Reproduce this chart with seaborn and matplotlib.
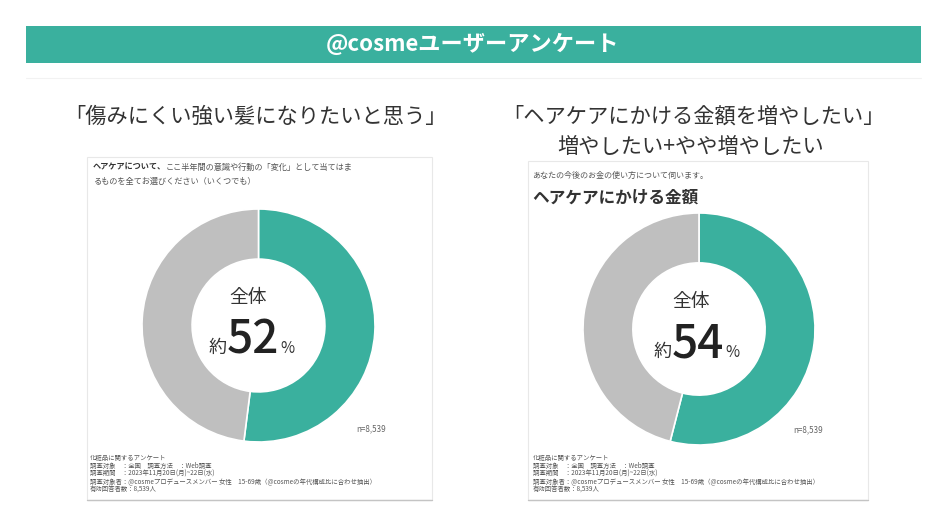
import numpy as np
import seaborn as sns
import matplotlib.pyplot as plt
from matplotlib.patches import Rectangle
from matplotlib.lines import Line2D

# データ
labels = ["該当", "その他"]
values_left = [52, 48]
values_right = [54, 46]
pct_left = "52"
pct_right = "54"
n_label = "n=8,539"

header = "@cosmeユーザーアンケート"
title_left = "「傷みにくい強い髪になりたいと思う」"
title_right = "「ヘアケアにかける金額を増やしたい」"
subtitle_right = "増やしたい+やや増やしたい"

q_left_bold = "ヘアケアについて、"
q_left_1 = "ここ半年間の意識や行動の「変化」として当てはま"
q_left_2 = "るものを全てお選びください（いくつでも）"
q_right_1 = "あなたの今後のお金の使い方について伺います。"
q_right_2 = "ヘアケアにかける金額"

footnote = [
    "化粧品に関するアンケート",
    "調査対象　：全国　調査方法　：Web調査",
    "調査期間　：2023年11月20日(月)~22日(水)",
    "調査対象者：@cosmeプロデュースメンバー 女性　15-69歳（@cosmeの年代構成比に合わせ抽出）",
    "有効回答者数：8,539人",
]

TEAL = "#3AB09E"
GRAY = "#BFBFBF"
W, H = 949, 532

sns.set_theme(style="white")
plt.rcParams['font.family'] = ['Noto Sans CJK JP', 'DejaVu Sans']
colors = sns.color_palette([TEAL, GRAY])

fig = plt.figure(figsize=(W / 100, H / 100), dpi=100)
bg = fig.add_axes([0, 0, 1, 1])
bg.set_xlim(0, W)
bg.set_ylim(H, 0)
bg.axis("off")
fig.canvas.draw()
renderer = fig.canvas.get_renderer()


def text_width(t):
    return t.get_window_extent(renderer=renderer).width


# ヘッダー
bg.add_patch(Rectangle((26, 26), 895, 37, color=TEAL, lw=0))
bg.text(473, 44.5, header, color="white", fontsize=16, fontweight="bold",
        ha="center", va="center")
bg.add_line(Line2D([26, 921], [78, 78], color="#F2F2F2", lw=0.8))

# タイトル
bg.text(255, 117, title_left, fontsize=15.3, color="#333333", ha="center", va="center")
bg.text(693, 117, title_right, fontsize=15.3, color="#333333", ha="center", va="center")
bg.text(691, 147, subtitle_right, fontsize=15.3, color="#333333", ha="center", va="center")


def panel(x0, x1, y0, y1):
    bg.add_patch(Rectangle((x0, y0), x1 - x0, y1 - y0, fill=False,
                           edgecolor="#E8E8E8", lw=0.8))
    bg.add_line(Line2D([x0, x1], [y1, y1], color="#C4C4C4", lw=1.0))


panel(87, 432, 157, 500)
panel(528, 868, 161, 500)

# 設問文
t = bg.text(93, 167, q_left_bold, fontsize=5.9, fontweight="bold", color="#333333",
            ha="left", va="center")
bg.text(93 + text_width(t), 167, q_left_1, fontsize=5.9, color="#555555", ha="left", va="center")
bg.text(93, 181, q_left_2, fontsize=5.9, color="#555555", ha="left", va="center")
bg.text(532, 175, q_right_1, fontsize=5.8, color="#555555", ha="left", va="center")
bg.text(532, 198, q_right_2, fontsize=12, fontweight="bold", color="#333333",
        ha="left", va="center")

# 脚注
for i, line in enumerate(footnote):
    bg.text(90, 458 + i * 8, line, fontsize=4.6, color="#555555", ha="left", va="center")
    bg.text(533, 458 + i * 8, line, fontsize=4.6, color="#555555", ha="left", va="center")


def donut(cx, cy, r, vals):
    ax = fig.add_axes([(cx - r) / W, (H - cy - r) / H, 2 * r / W, 2 * r / H])
    ax.pie(vals, colors=colors, startangle=90, counterclock=False, radius=1,
           wedgeprops=dict(width=0.43, edgecolor="white", linewidth=1.2))
    ax.set_xlim(-1, 1)
    ax.set_ylim(-1, 1)
    ax.axis("off")


donut(258.5, 325.5, 116.5, values_left)
donut(699, 329, 116, values_right)


def center_text(x_start, cx, cy, pct):
    bg.text(cx, cy - 28, "全体", fontsize=13.5, color="#333333", ha="center", va="center")
    base = cy + 27
    t1 = bg.text(x_start, base, "約", fontsize=13, color="#333333", ha="left", va="baseline")
    x = x_start + text_width(t1)
    t2 = bg.text(x, base, pct, fontsize=33, fontweight="medium", color="#222222",
                 ha="left", va="baseline")
    x += text_width(t2) + 1
    bg.text(x, base, "%", fontsize=11, color="#333333", ha="left", va="baseline")


center_text(209, 248, 326, pct_left)
center_text(654, 691, 330, pct_right)

bg.text(356, 429, n_label, fontsize=5.8, color="#666666", ha="left", va="center")
bg.text(793, 430, n_label, fontsize=5.8, color="#666666", ha="left", va="center")

fig.savefig("out.png", dpi=100)
